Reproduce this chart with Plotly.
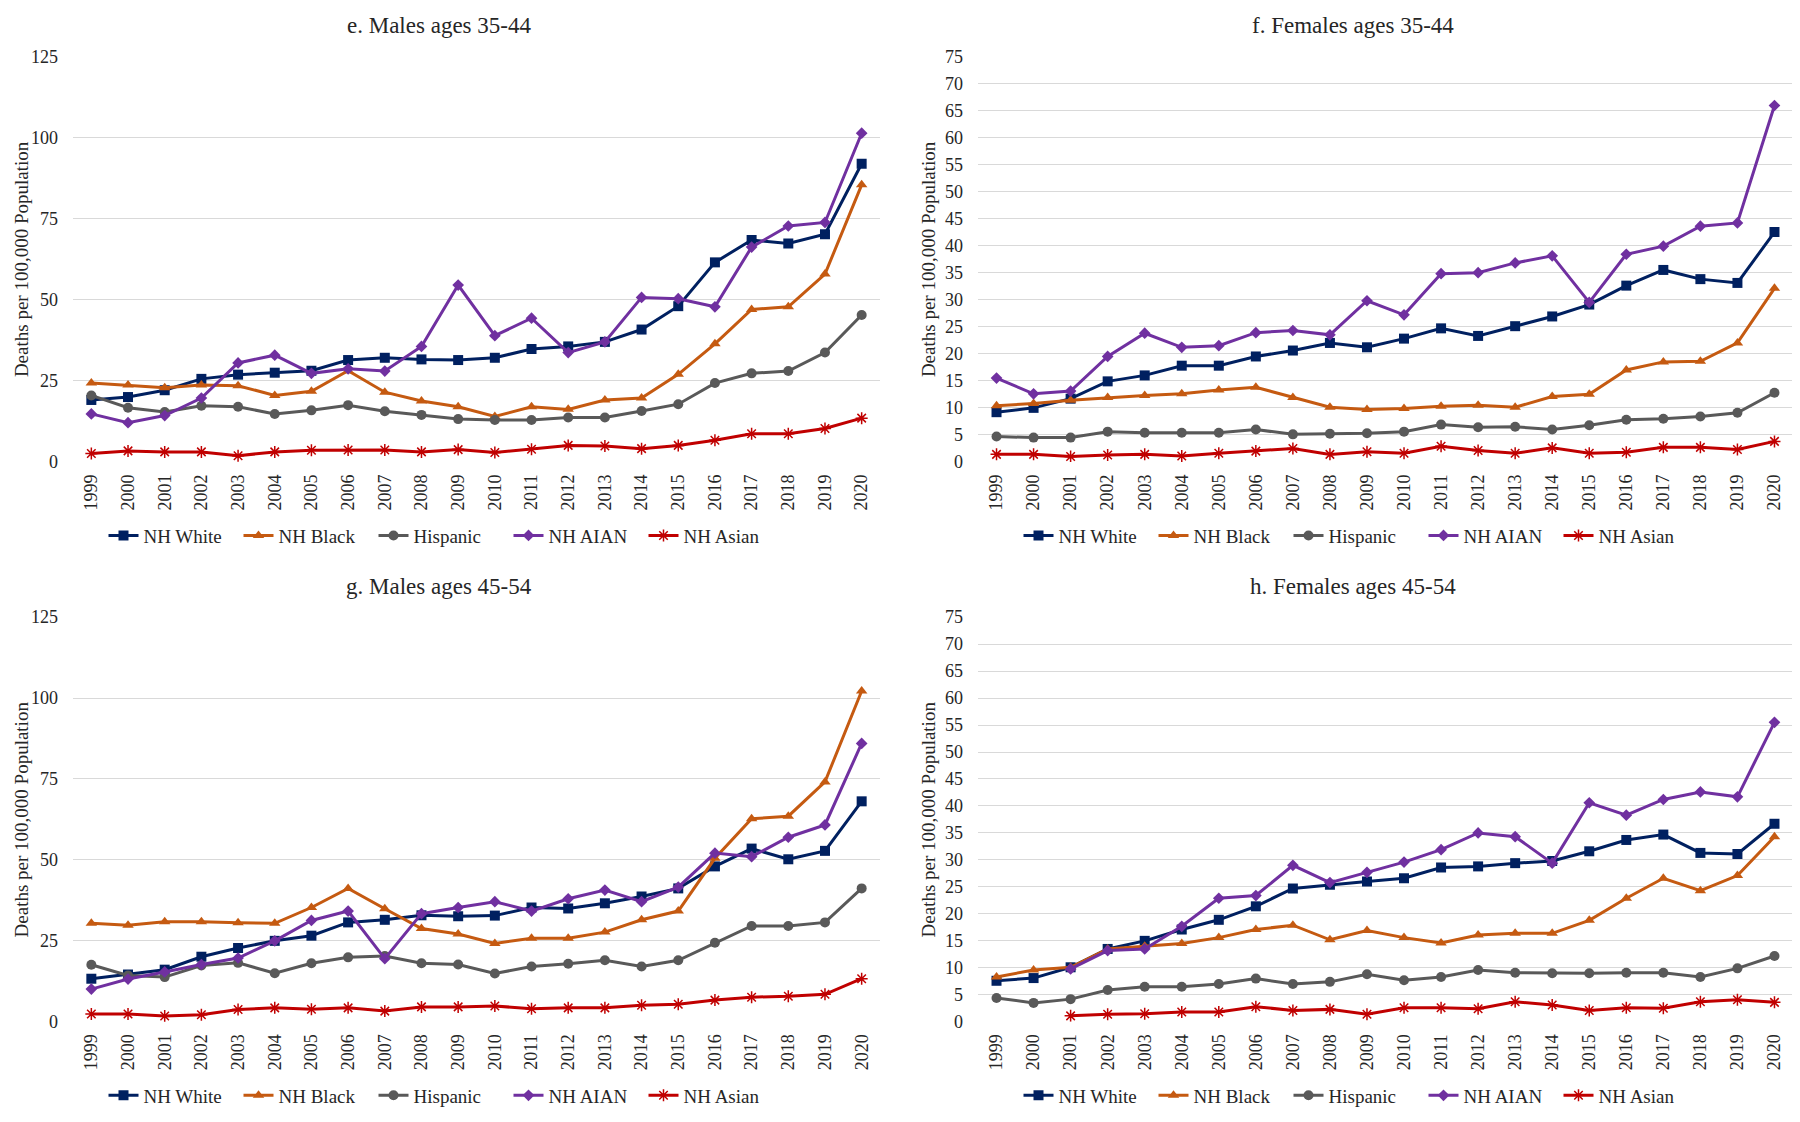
import plotly.graph_objects as go

years = [str(y) for y in range(1999, 2021)]
series_names = ["NH White", "NH Black", "Hispanic", "NH AIAN", "NH Asian"]

# e. Males ages 35-44
e_white = [19.1, 20.0, 22.1, 25.6, 26.9, 27.5, 28.1, 31.4, 32.1, 31.6, 31.4,
           32.1, 34.8, 35.6, 37.0, 40.8, 48.0, 61.5, 68.4, 67.3, 70.2, 91.9]
e_black = [24.3, 23.7, 22.9, 23.7, 23.5, 20.5, 21.8, 28.1, 21.5, 18.8, 17.0,
           14.0, 17.0, 16.2, 19.1, 19.7, 27.0, 36.4, 47.0, 47.8, 57.9, 85.4]
e_hisp = [20.5, 16.7, 15.4, 17.3, 17.0, 14.8, 15.9, 17.5, 15.6, 14.5, 13.2,
          12.9, 12.9, 13.7, 13.7, 15.7, 17.8, 24.3, 27.3, 28.0, 33.7, 45.3]
e_aian = [14.8, 12.1, 14.3, 19.7, 30.5, 32.9, 27.3, 28.7, 28.0, 35.6, 54.5,
          38.9, 44.3, 33.7, 37.0, 50.7, 50.3, 47.8, 66.2, 72.7, 73.8, 101.3]
e_asian = [2.6, 3.4, 3.1, 3.1, 1.9, 3.1, 3.6, 3.7, 3.7, 3.1, 3.8,
           2.9, 3.9, 5.1, 4.9, 4.1, 5.1, 6.7, 8.7, 8.7, 10.3, 13.5]

# f. Females ages 35-44
f_white = [9.2, 10.0, 11.7, 14.9, 16.0, 17.8, 17.8, 19.5, 20.6, 22.0, 21.2,
           22.8, 24.7, 23.3, 25.1, 26.9, 29.1, 32.6, 35.5, 33.8, 33.1, 42.5]
f_black = [10.4, 10.8, 11.4, 11.9, 12.3, 12.6, 13.3, 13.8, 11.9, 10.1, 9.7,
           9.9, 10.3, 10.5, 10.1, 12.1, 12.5, 17.0, 18.5, 18.6, 22.0, 32.1]
f_hisp = [4.7, 4.5, 4.5, 5.6, 5.4, 5.4, 5.4, 6.0, 5.1, 5.2, 5.3,
          5.6, 6.9, 6.4, 6.5, 6.0, 6.8, 7.8, 8.0, 8.4, 9.1, 12.8]
f_aian = [15.5, 12.6, 13.1, 19.5, 23.8, 21.2, 21.5, 23.9, 24.3, 23.5, 29.8,
          27.2, 34.8, 35.0, 36.8, 38.1, 29.5, 38.4, 39.9, 43.6, 44.2, 65.9]
f_asian = [1.4, 1.4, 1.0, 1.3, 1.4, 1.1, 1.6, 2.0, 2.5, 1.4, 1.9,
           1.6, 2.9, 2.1, 1.6, 2.6, 1.6, 1.8, 2.7, 2.7, 2.3, 3.8]

# g. Males ages 45-54
g_white = [13.3, 14.6, 16.1, 20.1, 22.8, 25.0, 26.6, 30.7, 31.5, 32.9, 32.6,
           32.8, 35.3, 35.0, 36.6, 38.7, 41.2, 48.0, 53.5, 50.2, 52.8, 68.1]
g_black = [30.4, 29.8, 30.9, 30.9, 30.6, 30.4, 35.3, 41.2, 34.9, 28.8, 27.1,
           24.2, 25.8, 25.8, 27.7, 31.5, 34.2, 50.5, 62.7, 63.5, 74.1, 102.2]
g_hisp = [17.6, 14.3, 13.8, 17.4, 18.2, 15.0, 18.1, 19.9, 20.3, 18.1, 17.7,
          14.9, 17.1, 17.9, 19.0, 17.1, 19.0, 24.4, 29.6, 29.6, 30.7, 41.2]
g_aian = [10.1, 13.2, 15.4, 17.7, 19.7, 25.0, 31.3, 34.2, 19.5, 33.4, 35.3,
          37.1, 34.2, 38.0, 40.7, 37.1, 41.6, 52.1, 51.0, 57.0, 60.8, 86.0]
g_asian = [2.4, 2.4, 1.8, 2.2, 3.8, 4.3, 3.9, 4.3, 3.3, 4.6, 4.6,
           4.9, 4.0, 4.3, 4.3, 5.1, 5.4, 6.7, 7.6, 7.9, 8.5, 13.3]

# h. Females ages 45-54 (AIAN and Asian not shown for 1999-2000)
h_white = [7.6, 8.1, 10.1, 13.5, 15.0, 17.1, 18.9, 21.4, 24.7, 25.4, 26.0,
           26.6, 28.6, 28.8, 29.4, 29.8, 31.6, 33.7, 34.7, 31.3, 31.1, 36.7]
h_black = [8.3, 9.6, 10.1, 13.5, 14.0, 14.5, 15.6, 17.1, 17.9, 15.2, 16.9,
           15.6, 14.6, 16.1, 16.4, 16.4, 18.8, 22.9, 26.6, 24.3, 27.1, 34.3]
h_hisp = [4.4, 3.5, 4.2, 5.9, 6.5, 6.5, 7.0, 8.0, 7.0, 7.4, 8.8,
          7.7, 8.3, 9.6, 9.1, 9.0, 9.0, 9.1, 9.1, 8.3, 9.9, 12.2]
h_aian = [None, None, 9.8, 13.2, 13.5, 17.7, 22.9, 23.4, 29.0, 25.8, 27.7,
          29.6, 31.9, 35.0, 34.3, 29.4, 40.6, 38.3, 41.2, 42.6, 41.7, 55.5]
h_asian = [None, None, 1.1, 1.4, 1.5, 1.8, 1.8, 2.8, 2.1, 2.3, 1.4,
           2.6, 2.6, 2.4, 3.7, 3.1, 2.1, 2.6, 2.5, 3.7, 4.1, 3.6]

panels = [
    ("e. Males ages 35-44", [e_white, e_black, e_hisp, e_aian, e_asian], 125, 25),
    ("f. Females ages 35-44", [f_white, f_black, f_hisp, f_aian, f_asian], 75, 5),
    ("g. Males ages 45-54", [g_white, g_black, g_hisp, g_aian, g_asian], 125, 25),
    ("h. Females ages 45-54", [h_white, h_black, h_hisp, h_aian, h_asian], 75, 5),
]

colors = ["#002060", "#C55A11", "#595959", "#7030A0", "#C00000"]
symbols = ["square", "triangle-up", "circle", "diamond", "asterisk-open"]
msizes = [10, 10, 10, 9, 10]

W, H = 1800, 1122
OFF = 8  # page body margin: the figure is drawn 8px in from the window edge
FONT = "Liberation Serif, Times New Roman, serif"
TXT = "#262626"
GRID = "#d9d9d9"


def px(x):
    return (x - OFF) / W


def py(y):
    return 1 - (y - OFF) / H


# screen-pixel boxes of each plot area: left, right, top, bottom
boxes = [(73, 880, 47, 460), (978, 1793, 47, 460),
         (73, 880, 618, 1030), (978, 1793, 618, 1030)]
title_pos = [(439, 16), (1353, 16), (439, 587), (1353, 587)]
ytitle_x = [21, 928, 21, 928]
legend_pos = [(441, 535), (1356, 535), (441, 1105), (1356, 1105)]

fig = go.Figure()
layout = {}
annotations = []
for i, (title, data, ymax, dtick) in enumerate(panels):
    n = "" if i == 0 else str(i + 1)
    lg = "legend" if i == 0 else f"legend{i + 1}"
    for j, name in enumerate(series_names):
        fig.add_trace(go.Scatter(
            x=years, y=data[j], name=name, mode="lines+markers",
            xaxis="x" + n, yaxis="y" + n, legend=lg,
            line=dict(color=colors[j], width=3),
            marker=dict(symbol=symbols[j], size=msizes[j], color=colors[j],
                        line=dict(color=colors[j], width=1.5 if j == 4 else 0)),
        ))
    l, r, t, b = boxes[i]
    layout["xaxis" + n] = dict(
        domain=[px(l), px(r)], anchor="y" + n, type="category",
        range=[-0.5, 21.5], tickangle=-90, showgrid=False, showline=False,
        zeroline=False, ticks="", ticklabelstandoff=8,
        tickfont=dict(family=FONT, size=18, color=TXT),
    )
    layout["yaxis" + n] = dict(
        domain=[py(b), py(t)], anchor="x" + n, range=[0, ymax],
        dtick=dtick, showgrid=True, gridcolor=GRID, gridwidth=1.3,
        zeroline=False, showline=False, ticks="", ticklabelstandoff=14,
        tickfont=dict(family=FONT, size=18, color=TXT),
    )
    lx, ly = legend_pos[i]
    layout[lg] = dict(
        orientation="h", x=px(lx), y=py(ly), xanchor="center",
        yanchor="middle", entrywidth=90, entrywidthmode="pixels",
        font=dict(family=FONT, size=19, color=TXT), itemwidth=30,
        bgcolor="rgba(0,0,0,0)",
    )
    tx, ty = title_pos[i]
    annotations.append(dict(
        text=title, x=px(tx), y=py(ty), xref="paper", yref="paper",
        xanchor="center", yanchor="middle", showarrow=False,
        font=dict(family=FONT, size=23, color=TXT),
    ))
    annotations.append(dict(
        text="Deaths per 100,000 Population", x=px(ytitle_x[i]),
        y=py((t + b) / 2), xref="paper", yref="paper", textangle=-90,
        xanchor="center", yanchor="middle", showarrow=False,
        font=dict(family=FONT, size=19, color=TXT),
    ))

fig.update_layout(
    width=W, height=H, margin=dict(l=0, r=0, t=0, b=0),
    paper_bgcolor="white", plot_bgcolor="white",
    annotations=annotations, **layout,
)
fig.write_html("out.html")
